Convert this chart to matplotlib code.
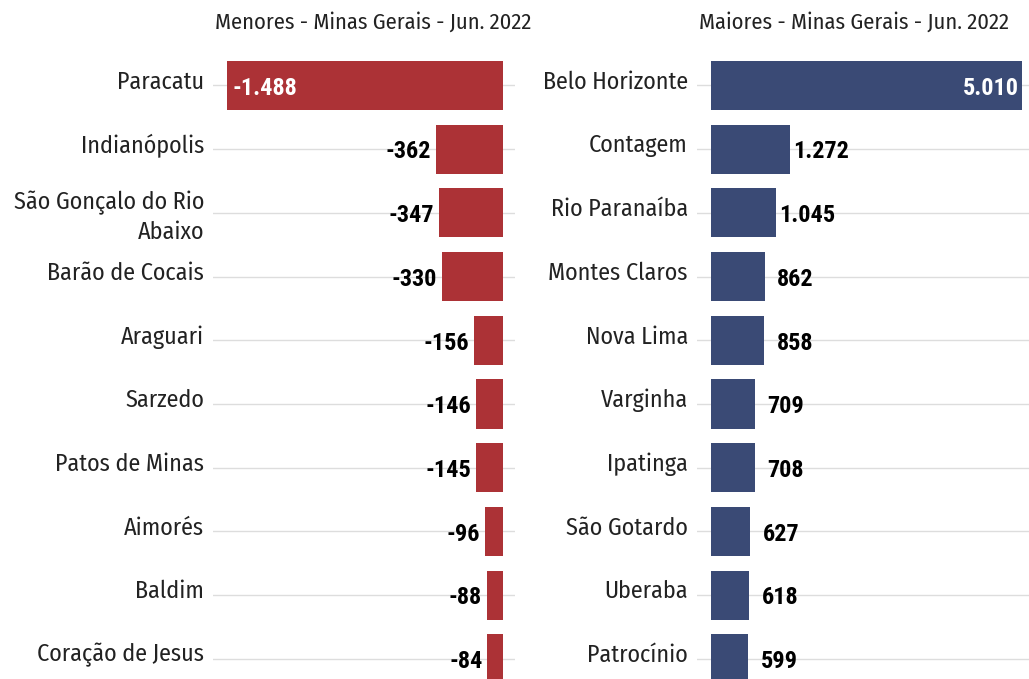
import matplotlib.pyplot as plt

# data
menores_cidades = ['Paracatu', 'Indianópolis', 'São Gonçalo do Rio\nAbaixo', 'Barão de Cocais',
                   'Araguari', 'Sarzedo', 'Patos de Minas', 'Aimorés', 'Baldim', 'Coração de Jesus']
menores_valores = [-1488, -362, -347, -330, -156, -146, -145, -96, -88, -84]

maiores_cidades = ['Belo Horizonte', 'Contagem', 'Rio Paranaíba', 'Montes Claros', 'Nova Lima',
                   'Varginha', 'Ipatinga', 'São Gotardo', 'Uberaba', 'Patrocínio']
maiores_valores = [5010, 1272, 1045, 862, 858, 709, 708, 627, 618, 599]

fonte_rotulo = ['Fira Sans Condensed', 'DejaVu Sans']
fonte_valor = ['Roboto Condensed', 'DejaVu Sans']
plt.rcParams['font.family'] = fonte_rotulo

red = '#AC3236'
blue = '#3A4A75'

fig = plt.figure(figsize=(10.29, 6.79), dpi=100)
W, H = 1029, 679
row = 63.7
top = 85.5 - row / 2
bottom = top + row * 10


def fmt(v):
    return f'{v:,}'.replace(',', '.')


def painel(x0, x1, cidades, valores, cor, titulo, xlim, neg):
    ax = fig.add_axes([x0 / W, 1 - bottom / H, (x1 - x0) / W, (bottom - top) / H])
    y = list(range(len(cidades)))
    ax.barh(y, valores, height=0.77, color=cor, zorder=2)
    ax.set_ylim(len(cidades) - 0.5, -0.5)
    ax.set_xlim(*xlim)
    ax.set_yticks(y)
    ax.set_yticklabels([])
    ax.tick_params(axis='y', length=0)
    ax.set_xticks([])
    ax.grid(axis='y', color='#DDDDDD', linewidth=1, zorder=0)
    for s in ax.spines.values():
        s.set_visible(False)

    # nomes das cidades
    for i, nome in enumerate(cidades):
        dy = -3 if '\n' in nome else 2.5
        ax.annotate(nome, xy=(0, i), xycoords=ax.get_yaxis_transform(),
                    xytext=(-6.5, dy), textcoords='offset points',
                    ha='right', va='center', fontsize=17.3, color='#222222',
                    linespacing=1.3, annotation_clip=False)

    # valores
    for i, v in enumerate(valores):
        kw = dict(va='center', fontsize=17.5, fontweight='bold', family=fonte_valor,
                  xycoords='data', textcoords='offset points', annotation_clip=False)
        if i == 0:
            if neg:
                ax.annotate(fmt(v), xy=(v, i), xytext=(4, -2), ha='left', color='white', **kw)
            else:
                ax.annotate(fmt(v), xy=(v, i), xytext=(-2, -2), ha='right', color='white', **kw)
        else:
            if neg:
                ax.annotate(fmt(v), xy=(v, i), xytext=(-3.5, -2), ha='right', color='black', **kw)
            else:
                ax.annotate(fmt(v), xy=(v, i), xytext=(22.3, -2), ha='center', color='black', **kw)
    fig.text(x0 / W + 2 / W, 1 - 22 / H, titulo, ha='left', va='center', fontsize=16.2,
             color='#222222')
    return ax


painel(213, 515, menores_cidades, menores_valores, red,
       'Menores - Minas Gerais - Jun. 2022', (-1563, 65), True)
painel(697, 1029, maiores_cidades, maiores_valores, blue,
       'Maiores - Minas Gerais - Jun. 2022', (-225, 5121), False)

fig.savefig('out.png', dpi=100)
